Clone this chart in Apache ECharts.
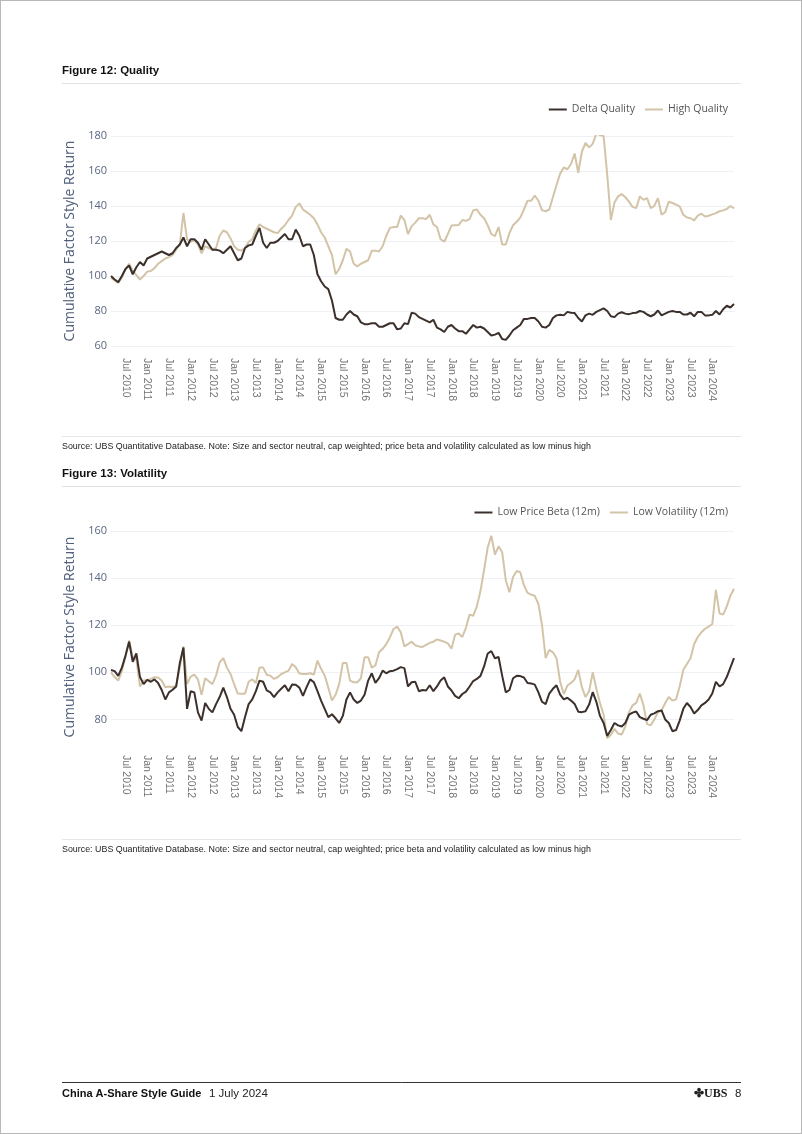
<!DOCTYPE html>
<html>
<head>
<meta charset="utf-8">
<script src="https://cdn.jsdelivr.net/npm/echarts@6/dist/echarts.min.js"></script>
<style>
html,body{margin:0;padding:0;background:#fff;}
#page{position:relative;width:802px;height:1134px;box-sizing:border-box;border:1px solid #b8b8b8;}
#chart{position:absolute;left:0;top:0;width:802px;height:1134px;}
</style>
</head>
<body>
<div id="page"><div id="chart"></div></div>
<script>
// Monthly observations, Mar 2010 .. Jul 2024
const startYear = 2010, startMonth = 2; // 0-based month (Mar)
const monthNames = ['Jan','Feb','Mar','Apr','May','Jun','Jul','Aug','Sep','Oct','Nov','Dec'];

const deltaQuality = [
 100,98,96.5,100,104,106,101,105,108,106,
 110,111,112,113,114,113,112,113,116,118,
 122,117,121,121,119,115,121,118,115,115,
 114.5,113,115,117,113,109,110,116,117.5,118,
 123,127.5,119,116,119,119,120,122,124,121,
 121,126.5,123,117,118,118,112,101,97,94,
 92.5,86,76,75,75,78,80,78,77,73.5,
 72.5,72.5,73,73,71,71,72,73,73,69.5,
 70,73,72.5,79,78.5,76.5,75.5,74.5,73.5,75,
 70.5,69.5,68,71,72,70,68.5,68.5,67,69.5,
 72,70.5,71,70,68,66,66.5,67.5,64,63.5,
 66,69,70.5,72,75.5,75.5,76,76,74,71,
 70.5,72,76,77.5,77.8,77.5,79.5,79,78.8,76,
 74,77.5,78.5,77.8,79.5,80.5,81.5,80,77,76.5,
 78.5,79.3,78.5,78.2,78.8,79,80,79.5,78,77,
 78,80.3,77.5,78.5,79.5,80,79.5,79.5,78,78,
 79,77,79.5,79.5,77.5,77.5,77.8,80,78,81,
 83,82,84
];
const highQuality = [
 99,97.5,96,99,104,107,103,100.5,98,100,
 102.5,102.8,104.5,107,108.5,110,110.8,112,115,118,
 136,121,119.5,120.5,118,113,117,116,115,116,
 123,126,125,121.5,117,115,114.5,116,119.5,121,
 126,129.5,128,127,126,125,124.5,127,129,132,
 134.5,139.5,141.5,138,136.5,135,133,129.5,125,122,
 117,112,101,104,109,115.5,114,107,105.5,107,
 108,109,114.5,114.5,114,117,123,127.5,128,128,
 134.5,132,124,128.5,130.5,133,133,132.5,135,129.5,
 128,121,119.6,124,128.8,129,129.2,132,131.5,132.5,
 137.5,138,135,133,129,124,122.8,128,118,118,
 124.5,129,131,133.4,138,143,143,146,143,137.5,
 137,138,145,152,158.5,162,161,164,170,159,
 171,176,173.5,175.5,181.5,180.5,180,158,132,142,
 145.5,146.8,145,142.5,139.5,138.8,145.5,143.5,144.5,138.8,
 140.1,144.5,135,136.5,142.5,141.7,140.8,139.8,135,133.5,
 133,131.8,134.5,135.6,134,134.4,135.2,135.9,137,137.5,
 138.3,140,138.6
];
const lowPriceBeta = [
 101,100.5,98.5,102,107,113,104.5,108,98,95,
 96.8,96,97,95.5,92.5,88.5,91.5,92.6,94,104,
 110.5,84.5,92,91.5,83,79.5,87,84.5,83,86.5,
 89.5,93.5,89.5,84.5,82,76.8,75,81,86.5,88.5,
 92,96.5,96,92.3,91.5,89.5,91.5,93,94.5,92,
 94.8,94.7,93.5,90,93.7,97,95.8,92,88,84.5,
 81,82.2,80.5,78.5,81.5,88.5,91.5,88.5,87,88,
 90.5,96.5,99.6,95.5,97.5,100.7,99.6,100.5,100.7,101.4,
 102.2,101.8,94,95.8,96,92,92.5,92.3,94.5,92,
 94,96.5,97.9,94,92.3,90,89,90.8,91.8,94,
 96.3,97.2,98.5,102.5,108,109,106,106.5,98.5,91.5,
 92.5,97.5,98.5,98.4,97.8,95.5,95.3,94.8,91.5,87.5,
 86.5,91,93,94.5,90.5,88.5,89.2,88,86.6,83.3,
 83.1,83.5,86.3,91.6,87.5,81.5,78.5,73,75.5,78.5,
 77.5,77,78.5,82,82.9,83.4,81,80.3,79.7,82,
 82.6,83.5,83.8,80,78.5,75,75.5,79.5,84.5,87,
 85.3,82.5,84,86,87,88.5,91,96,94,95,
 98,102,106
];
const lowVolatility = [
 100,98,96.5,100.5,107,113.5,106.5,105.5,94,96.5,
 96.8,97.2,97.9,97.8,96.5,93.7,94,93.7,94.5,102,
 111,95,98.2,99,97,90.5,97.5,96.2,95,98.6,
 104.3,106,102,99.3,95,91,90.9,90.9,96,97,
 95.5,102,102,99,98.6,97.2,97.9,99.3,100,100.7,
 103.5,102.2,99.5,99.3,99.3,99.6,99,105,101.5,98.6,
 93.5,88,90.5,95,104,104,96.5,95.8,95.8,97.5,
 106.4,106.4,102,102.9,108.5,110,112,114.8,118.4,119.4,
 117,111,112,113,111.5,111,110.8,111.7,112.5,113,
 114,113.5,113,112.3,110,116,116.5,115,119,124.5,
 124,128,134.5,143.5,153,158,150,153.5,151,139,
 134,140.5,143,142.5,137,133.7,133,132.5,129,120,
 106,109.5,108.5,106,96,90.8,94.4,95.5,97,101,
 93.7,89.5,92,100,93,87,82,72,73.5,76,
 74,73.6,77,83,86,87,91,86,78,77.5,
 80,83,83.8,87,89.5,88,88.5,94,101,103.5,
 106,112,115,117,118.5,119.4,120.5,135,125,124.5,
 128,132.5,135.5
];

const months = [];
for (let i = 0; i < deltaQuality.length; i++) {
  const m = (startMonth + i) % 12, y = startYear + Math.floor((startMonth + i) / 12);
  months.push(monthNames[m] + ' ' + y);
}
// Labelled ticks: every six months, Jul 2010 .. Jan 2024
const tickLabels = months.filter(s => (s.startsWith('Jan') || s.startsWith('Jul')) && s !== 'Jul 2024');

const darkColor = '#3b302b';
const lightColor = '#d3c4a8';
const axisTitleColor = '#52607c';
const yLabelColor = '#5b6780';
const xLabelColor = '#737373';
const gridColor = '#eef0f4';
const uiFont = 'Open Sans';
const textFont = 'Liberation Sans';

function xAxisCfg(gridIndex) {
  return {
    type: 'category', gridIndex: gridIndex, data: months, boundaryGap: false,
    axisLine: {show: false}, axisTick: {show: false},
    axisLabel: {
      rotate: -90, margin: 12, color: xLabelColor, fontFamily: textFont, fontSize: 10.5,
      interval: (idx, val) => tickLabels.indexOf(val) >= 0
    },
    splitLine: {show: false}
  };
}
function yAxisCfg(gridIndex, min, max, interval, labelStep, gridColors) {
  return {
    type: 'value', gridIndex: gridIndex, min: min, max: max, interval: interval,
    name: 'Cumulative Factor Style Return', nameLocation: 'middle', nameGap: 29,
    nameTextStyle: {color: axisTitleColor, fontSize: 14, fontFamily: uiFont},
    axisLine: {show: false}, axisTick: {show: false},
    axisLabel: {color: yLabelColor, fontSize: 11, fontFamily: uiFont, margin: 4,
      formatter: v => (v % labelStep === 0 ? String(v) : '')},
    splitLine: {show: true, lineStyle: {color: gridColors, width: 1}}
  };
}
function lineSeries(name, data, color, xi, yi) {
  return {name: name, type: 'line', data: data, xAxisIndex: xi, yAxisIndex: yi,
    showSymbol: false, symbol: 'none', smooth: false,
    lineStyle: {color: color, width: 2}, itemStyle: {color: color}, z: color === darkColor ? 3 : 2};
}

const chart = echarts.init(document.getElementById('chart'), null, {renderer: 'canvas'});
const txt = (x, y, text, opts) => ({type: 'text', left: x, top: y, silent: true,
  style: Object.assign({text: text, fill: '#222', fontSize: 9, fontFamily: textFont}, opts || {})});
const hline = (y, x1, x2, color, w) => ({type: 'line', silent: true,
  shape: {x1: x1, y1: y, x2: x2, y2: y}, style: {stroke: color, lineWidth: w || 1}});

const sourceText = 'Source: UBS Quantitative Database. Note: Size and sector neutral, cap weighted; price beta and volatility calculated as low minus high';
const legendBase = {right: 70, itemWidth: 18, itemHeight: 2, itemGap: 10, icon: 'rect',
  textStyle: {color: '#555', fontSize: 10.5, fontFamily: uiFont}};

chart.setOption({
  animation: false,
  grid: [
    {left: 110, right: 69, top: 135, height: 210},
    {left: 110, right: 69, top: 530, height: 212}
  ],
  legend: [
    Object.assign({data: ['Delta Quality', 'High Quality'], top: 98}, legendBase),
    Object.assign({data: ['Low Price Beta (12m)', 'Low Volatility (12m)'], top: 501}, legendBase)
  ],
  xAxis: [xAxisCfg(0), xAxisCfg(1)],
  yAxis: [
    yAxisCfg(0, 60, 180, 20, 20, gridColor),
    yAxisCfg(1, 70, 160, 10, 20, ['rgba(0,0,0,0)', gridColor])
  ],
  series: [
    lineSeries('High Quality', highQuality, lightColor, 0, 0),
    lineSeries('Delta Quality', deltaQuality, darkColor, 0, 0),
    lineSeries('Low Volatility (12m)', lowVolatility, lightColor, 1, 1),
    lineSeries('Low Price Beta (12m)', lowPriceBeta, darkColor, 1, 1)
  ],
  graphic: [
    txt(61, 64, 'Figure 12: Quality', {fontSize: 11.5, fontWeight: 'bold', fill: '#111'}),
    hline(82.5, 61, 740, '#e2e2e2'),
    hline(435.5, 61, 740, '#e6e6e6'),
    txt(61, 441, sourceText, {fontSize: 8.9}),
    txt(61, 467, 'Figure 13: Volatility', {fontSize: 11.5, fontWeight: 'bold', fill: '#111'}),
    hline(485.5, 61, 740, '#e2e2e2'),
    hline(838.5, 61, 740, '#e6e6e6'),
    txt(61, 844, sourceText, {fontSize: 8.9}),
    hline(1081.5, 61, 740, '#333', 1),
    txt(61, 1087, 'China A-Share Style Guide', {fontSize: 11, fontWeight: 'bold', fill: '#111'}),
    txt(208, 1087, '1 July 2024', {fontSize: 11.5, fill: '#222'}),
    txt(693, 1087, '\u2724UBS', {fontSize: 12, fontFamily: 'Liberation Serif', fontWeight: 'bold', fill: '#222'}),
    txt(734, 1087, '8', {fontSize: 11.5, fill: '#222'})
  ]
});
</script>
</body>
</html>
